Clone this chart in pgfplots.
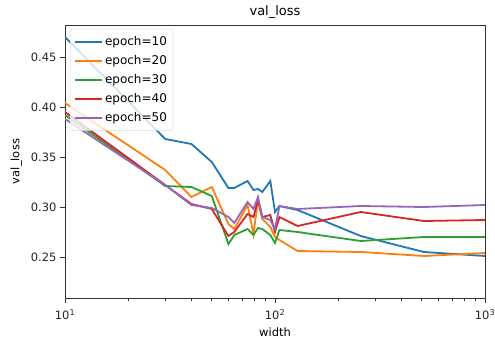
\documentclass[border=0pt]{standalone}
\usepackage{fontspec}
\setmainfont{DejaVu Sans}
\usepackage{pgfplots}
\pgfplotsset{compat=1.18}
\usepackage{pgfplotstable}
\definecolor{c0}{HTML}{1F77B4}
\definecolor{c1}{HTML}{FF7F0E}
\definecolor{c2}{HTML}{2CA02C}
\definecolor{c3}{HTML}{D62728}
\definecolor{c4}{HTML}{9467BD}

\pgfplotstableread{
w    e10   e20   e30   e40   e50
10   0.470 0.404 0.392 0.395 0.388
30   0.368 0.337 0.321 0.322 0.322
40   0.363 0.310 0.320 0.303 0.302
50   0.345 0.320 0.311 0.298 0.299
60   0.319 0.283 0.263 0.271 0.290
64   0.319 0.278 0.272 0.275 0.284
74   0.326 0.302 0.278 0.293 0.305
79   0.317 0.273 0.272 0.290 0.298
83   0.318 0.307 0.279 0.307 0.310
87   0.315 0.288 0.278 0.290 0.290
95   0.326 0.280 0.272 0.292 0.287
100  0.295 0.270 0.264 0.275 0.278
105  0.301 0.267 0.277 0.290 0.301
128  0.297 0.256 0.275 0.281 0.298
256  0.271 0.255 0.266 0.295 0.301
512  0.255 0.251 0.270 0.286 0.300
1000 0.251 0.254 0.270 0.287 0.302
}\data

\pgfplotsset{
  ser/.style={#1, line width=1.8pt,
    legend image code/.code={\draw[##1, line width=1.8pt] (0pt,0pt) -- (27pt,0pt);}},
}

\begin{document}
\begin{tikzpicture}
\path[use as bounding box] (0,0) rectangle (495pt,343pt);
\begin{axis}[
  at={(65pt,45pt)}, anchor=south west,
  scale only axis, width=420pt, height=273pt,
  xmode=log, log basis x=10,
  xmin=10, xmax=1000, ymin=0.209, ymax=0.482,
  xtick={10,100,1000},
  xticklabels={10\textsuperscript{1},10\textsuperscript{2},10\textsuperscript{3}},
  minor xtick={20,30,40,50,60,70,80,90,200,300,400,500,600,700,800,900},
  ytick={0.25,0.30,0.35,0.40,0.45},
  yticklabel style={/pgf/number format/.cd, fixed, fixed zerofill, precision=2, assume math mode=true},
  ticklabel style={font=\fontsize{11.5}{13}\selectfont, text=black!85},
  xticklabel style={yshift=-3pt},
  tick align=outside, tick pos=left,
  major tick length=5pt, minor tick length=3pt,
  every tick/.style={black!80, line width=0.8pt},
  axis line style={line width=0.9pt, black!80},
  xlabel={width}, ylabel={val\_loss}, title={val\_loss},
  xlabel style={font=\fontsize{11.5}{13}\selectfont, yshift=-1pt},
  ylabel style={font=\fontsize{11.5}{13}\selectfont, yshift=2pt},
  title style={font=\fontsize{13}{15}\selectfont, yshift=-3pt},
  legend cell align=left,
  legend style={at={(0.012,0.985)}, anchor=north west, draw=black!15, rounded corners=2pt,
     fill=white, fill opacity=0.8, text opacity=1, font=\fontsize{12}{14}\selectfont,
     row sep=4.5pt, inner xsep=4pt, inner ysep=5pt,
     /tikz/every even column/.append style={column sep=6pt}},
]
\addplot[ser=c0] table[x=w, y=e10] {\data};
\addlegendentry{epoch=10}
\addplot[ser=c1] table[x=w, y=e20] {\data};
\addlegendentry{epoch=20}
\addplot[ser=c2] table[x=w, y=e30] {\data};
\addlegendentry{epoch=30}
\addplot[ser=c3] table[x=w, y=e40] {\data};
\addlegendentry{epoch=40}
\addplot[ser=c4] table[x=w, y=e50] {\data};
\addlegendentry{epoch=50}
\end{axis}
\end{tikzpicture}
\end{document}
